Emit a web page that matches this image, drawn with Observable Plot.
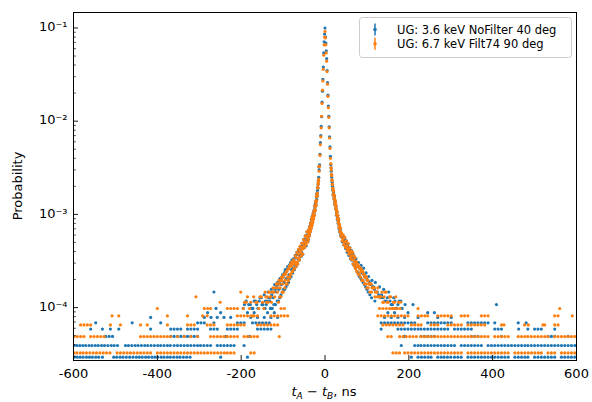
<!DOCTYPE html>
<html><head><meta charset="utf-8">
<script src="https://cdn.jsdelivr.net/npm/d3@7"></script>
<script src="https://cdn.jsdelivr.net/npm/@observablehq/plot@0.6"></script>
<style>
html,body{margin:0;padding:0;background:#fff;}
#chart{position:relative;width:592px;height:402px;}
svg{font-family:"DejaVu Sans",sans-serif;}
</style></head>
<body><div id="chart"></div>
<script>
// ---- series metadata ----
const seriesNames = ["UG: 3.6 keV NoFilter 40 deg", "UG: 6.7 keV Filt74 90 deg"];
const seriesColors = ["#1f77b4", "#ff7f0e"];
const blueTotal = 102000;   // events (probability = count / total)
const orangeTotal = 61350;

// ---- axis ticks ----
const xTicks = [-600, -400, -200, 0, 200, 400, 600];
const xTickLabels = ["-600", "-400", "-200", "0", "200", "400", "600"];
const yMajor = [1e-4, 1e-3, 1e-2, 1e-1];
const yTickLabels = ["10\u207B\u2074", "10\u207B\u00B3", "10\u207B\u00B2", "10\u207B\u00B9"];
const yMinor = [3e-5,4e-5,5e-5,6e-5,7e-5,8e-5,9e-5,2e-4,3e-4,4e-4,5e-4,6e-4,7e-4,8e-4,9e-4,2e-3,3e-3,4e-3,5e-3,6e-3,7e-3,8e-3,9e-3,2e-2,3e-2,4e-2,5e-2,6e-2,7e-2,8e-2,9e-2];

// ---- blue series: central region (bin centre ns, counts) ----
const blueCoreX = [0,-1,-2,-3,-4,-5,-6,-7,-8,-9,-10,-11,-12,-13,-14,-15,-16,-17,-18,-19,-20,-21,-22,-23,-24,-25,-26,-27,-28,-29,-30,-31,-32,-33,-34,-35,-36,-37,-38,-39,-40,-42,-44,-46,-48,-50,-52,-54,-56,-58,-60,-62,-64,-66,-68,-70,-72,-74,-76,-78,-80,-83,-86,-89,-92,-95,-98,-101,-104,-107,-110,-113,-116,-120,-124,-128,-132,-136,-140,-145,-150,-155,-160,-166,-172,-178,-185,-192,
 1,2,3,4,5,6,7,8,9,10,11,12,13,14,15,16,17,18,19,20,21,22,23,24,25,26,27,28,29,30,31,32,33,34,35,36,37,38,40,42,44,46,48,50,52,54,56,58,60,62,65,68,71,74,77,80,83,86,89,92,95,98,101,104,108,112,116,120,125,130,135,140,146,152,158,164,170,177,184,191];
const blueCoreN = [10200,8770,7240,5510,3880,2860,2140,1630,1140,900,714,600,450,347,306,255,235,194,184,173,148,143,133,131,120,114,107,102,99,92,94,84,87,78,80,71,73,67,62,65,59,61,53,56,49,51,44,47,40,43,37,41,34,38,31,35,29,33,27,32,26,30,23,28,21,26,19,23,18,21,16,19,15,18,13,16,12,15,11,14,11,13,10,12,10,11,9,11,
 8160,7040,5810,4790,3570,2650,1940,1480,1150,887,694,541,428,347,296,255,224,204,184,173,163,155,143,135,128,117,112,106,99,95,88,85,79,75,71,69,65,63,58,59,53,54,48,50,44,46,41,43,38,40,35,37,32,34,29,31,27,29,24,27,22,24,20,22,18,20,17,19,15,17,14,16,12,15,11,13,10,12,10,11];
// blue: further wing bins (scatter about the central trend)
const blueWingX = [-14.5,-15.5,-16.5,-17.5,-18.5,-19.5,-20.5,-21.5,-22.5,-23.5,-24.5,-25.5,-26.5,-27.5,-28.5,-29.5,-30.5,-31.5,-32.5,-33.5,-34.5,-35.5,-36.5,-37.5,-38.5,-39.5,
 -41,-43,-45,-47,-49,-51,-53,-55,-57,-59,-61,-63,-65,-67,-69,-71,-73,-75,-77,-79,-81,-82,-84,-85,-87,-88,-90,-91,-93,-94,-96,-97,-99,-100,-102,-103,-105,-106,-108,-109,-111,-112,-114,-115,-118,-119,-122,-123,-126,-127,-130,-131,-134,-138,-142,-143,-148,-152,-157,-163,-169,-175,-182,-188,-195,
 14.5,15.5,16.5,17.5,18.5,19.5,20.5,21.5,22.5,23.5,24.5,25.5,26.5,27.5,28.5,29.5,30.5,31.5,32.5,33.5,34.5,35.5,36.5,37.5,39,41,43,45,47,49,51,53,55,57,59,61,63,64,66,67,69,70,72,73,75,76,78,79,81,82,84,85,87,88,90,91,93,94,96,97,99,100,102,103,106,107,110,111,114,118,119,123,128,133,138,143,149,155,161,167,174,181];
const blueWingN = [330,230,215,200,160,168,158,128,140,112,126,100,112,92,104,84,97,77,90,72,82,66,76,60,70,55,
 52,66,47,60,45,55,38,50,36,46,33,42,30,40,28,37,26,34,24,33,22,31,21,29,19,27,18,26,17,25,16,24,16,22,15,21,14,20,13,19,12,18,12,17,11,16,11,15,10,14,10,13,13,12,12,10,11,13,12,11,12,10,11,12,10,
 320,270,235,212,190,165,180,150,162,130,141,118,124,100,108,90,99,82,90,72,79,66,72,60,64,52,60,48,57,44,53,40,49,37,45,34,42,33,39,30,36,29,34,27,31,25,30,24,28,22,27,21,26,20,24,19,23,18,22,17,21,16,20,15,19,14,18,13,17,16,12,15,14,13,13,12,13,12,11,12,11,12];

// ---- blue series: tail bins (ns) at each count level ----
const blueK3 = [-598,-591,-584,-577,-569,-562,-555,-547,-540,-531,-504,-497,-489,-482,-474,-466,-458,-450,-443,-436,-428,-421,-413,-406,-399,-391,-384,-376,-369,-361,-353,-346,-338,-330,-322,-249,-185,
 206,222,230,238,246,253,269,277,284,292,300,309,317,325,341,349,357,365,373,381,389,397,405,413,421,429,437,453,461,469,477,484,500,508,516,524,532,540,548,564,572,580,588,596];
const blueK4 = [-599,-592,-585,-578,-571,-563,-556,-548,-541,-533,-526,-518,-510,-503,-495,-476,-469,-461,-453,-446,-438,-430,-423,-415,-407,-399,-392,-384,-376,-369,-360,-352,-344,-336,-328,-320,-312,-304,-297,-289,-281,-273,-257,-249,-241,-233,-225,-217,-193,
 182,214,222,229,237,245,253,261,269,277,285,293,301,309,325,333,341,349,357,365,373,389,397,405,413,421,429,437,445,453,461,469,477,484,492,500,508,516,524,532,540,548,556,564,572,580,588,596];
const blueK5 = [-523,-515,-507,-368,-360,-352,-344,-336,-328,-320,-312,-304,-236,-180,
 190,229,237,245,253,261,349,357,365,421,532,540,548,580];
const blueK6 = [-559,-531,-512,-492,-416,-368,-360,-352,-344,-328,-320,-312,-304,-273,-265,-257,-233,-225,-217,-209,-161,-153,-145,-137,-129,
 134,174,182,190,198,206,214,222,229,237,245,253,261,269,277,285,293,309,317,325,333,341,349,405,413,421,462,484,500,508,516,548];
const blueK7 = [-547,-460,-392,-304,-296,-288,-265,-209,-201,-193,-173,-165,-157,-149,-141,-133,
 134,142,150,158,166,174,182,190,198,206,214,245,253,261,269,277,285,293,301,341,349,357,365,373,381,389,405,461,480];
const blueK8 = [-416,-288,-272,-257,-241,-225,-177,-161,-145,-129,-113, 142,158,174,190,222,269,301];
const blueK9 = [-280,-249,-169,-137,-121, 150,166,198,245,261];
const blueK10 = [-260,-130, 170];
const blueK11 = [-150, 210,409];
const blueK15 = [-265];

// ---- orange series: central region ----
const orangeCoreX = [0,-1,-2,-3,-4,-5,-6,-7,-8,-9,-10,-11,-12,-13,-14,-15,-16,-17,-18,-19,-20,-21,-22,-23,-24,-25,-26,-27,-28,-29,-30,-31,-32,-33,-34,-35,-36,-37,-38,-39,-40,-42,-44,-46,-48,-50,-52,-54,-56,-58,-60,-62,-64,-66,-68,-70,-72,-74,-76,-78,-80,-83,-86,-89,-92,-95,-98,-101,-104,-107,-110,-113,-116,-120,-124,-128,-132,-136,-141,-146,-152,-158,-165,-172,-180,-188,-195,
 1,2,3,4,5,6,7,8,9,10,11,12,13,14,15,16,17,18,19,20,21,22,23,24,25,26,27,28,29,30,31,32,33,34,35,36,37,38,40,42,44,46,48,50,52,54,56,58,60,62,65,68,71,74,77,80,83,86,89,92,95,98,101,104,108,112,116,120,124,128,133,138,143,148,154,160,166,172,179];
const orangeCoreN = [5640,4910,4050,3130,2210,1660,1320,951,693,521,417,344,264,202,178,147,129,117,104,98,86,83,77,74,69,66,61,59,56,53,54,48,50,44,46,41,43,38,39,36,37,34,35,31,32,28,30,26,27,24,25,21,23,19,21,18,19,16,18,15,17,14,16,13,15,12,14,11,13,10,12,9,11,8,10,7,9,7,8,6,8,6,7,5,6,7,6,
 4790,4050,3310,2700,2090,1530,1135,859,675,521,405,313,245,215,184,160,141,129,117,110,98,92,89,83,79,74,69,66,61,59,55,53,49,47,45,43,40,39,37,34,34,31,31,28,28,26,26,24,24,22,22,20,19,18,17,17,16,15,15,14,13,13,12,11,11,10,10,9,9,8,8,7,9,7,8,6,7,6,6];
// orange: further wing bins
const orangeWingX = [-14.5,-15.5,-16.5,-17.5,-18.5,-19.5,-20.5,-21.5,-22.5,-23.5,-24.5,-25.5,-26.5,-27.5,-28.5,-29.5,-30.5,-31.5,-32.5,-33.5,-34.5,-35.5,-36.5,-37.5,-38.5,-39.5,
 -41,-43,-45,-47,-49,-51,-53,-55,-57,-59,-61,-63,-65,-67,-69,-71,-73,-75,-77,-79,-81,-82,-84,-85,-87,-88,-90,-91,-93,-94,-96,-97,-99,-100,-102,-103,-105,-106,-108,-109,-111,-112,-114,-118,-122,-126,-130,-134,-138,-143,-149,-155,-162,-170,-177,-185,-192,
 14.5,15.5,16.5,17.5,18.5,19.5,20.5,21.5,22.5,23.5,24.5,25.5,26.5,27.5,28.5,29.5,30.5,31.5,32.5,33.5,34.5,35.5,36.5,37.5,39,41,43,45,47,49,51,53,55,57,59,61,63,64,66,67,69,70,72,73,75,76,78,79,81,82,84,85,87,88,90,91,93,94,96,97,99,100,102,103,106,107,110,111,114,118,119,123,126,131,136,141,146,151,157,163,169,176];
const orangeWingN = [200,140,133,120,96,102,95,77,85,68,76,60,67,55,62,50,58,46,54,43,49,40,45,36,42,33,
 31,40,29,36,27,33,23,30,22,28,20,26,18,24,17,22,16,20,15,19,14,18,13,17,12,16,11,15,11,14,10,14,9,13,9,12,8,12,8,11,7,11,10,10,9,9,8,9,8,9,7,8,7,8,7,8,7,
 195,165,144,128,115,101,109,90,98,79,86,71,76,61,66,55,60,50,55,44,48,40,44,36,39,32,37,29,35,27,32,25,30,23,27,21,25,20,24,18,22,17,21,16,19,15,18,14,17,14,16,13,16,12,15,12,14,11,13,11,13,10,12,10,11,9,11,9,10,10,8,9,10,8,9,8,9,7,8,7,8,7];

// ---- orange series: tail bins (ns) at each count level ----
const orangeK2 = [-599,-592,-584,-577,-569,-561,-553,-545,-537,-529,-521,-513,-496,-488,-480,-472,-464,-456,-448,-440,-432,-424,-416,-400,-392,-384,-376,-368,-360,-352,-344,-336,-328,-320,-312,-304,-296,-288,-280,-272,-264,-256,-248,-240,-233,-225,-217,-177,-169,
 162,170,178,190,198,206,214,222,230,238,246,253,261,269,277,285,293,301,309,317,325,341,349,357,365,373,381,389,397,405,413,421,429,437,453,461,469,477,485,493,501,509,516,532,540,548,564,572,580,588,596];
const orangeK3 = [-599,-591,-583,-575,-559,-551,-543,-535,-527,-440,-432,-424,-416,-408,-400,-392,-384,-376,-368,-352,-336,-320,-304,-273,-265,-257,-249,-241,-233,-225,-217,-209,-193,-185,-177,-169,-161,-109,
 150,158,178,186,194,202,210,218,229,237,245,253,261,269,277,285,293,301,309,317,325,333,341,349,357,365,373,381,389,405,413,421,429,437,461,469,477,484,492,500,508,516,524,532,548,556,564,572,580,588,596];
const orangeK4 = [-583,-575,-567,-559,-512,-488,-440,-424,-376,-328,-320,-312,-281,-273,-265,-233,-225,-217,-209,-201,-193,-161,-153,-145,-137,-129,-121,-113,
 138,146,154,162,170,178,186,206,214,222,229,253,261,269,293,301,309,317,325,341,349,357,365,373,381,421,427,476,485,520,524,548,556];
const orangeK5 = [-508,-492,-376,-328,-292,-281,-209,-201,-193,-185,-177,-169,-161,-129,-121,-113,-105,-97,-89,
 126,134,142,150,158,166,174,182,190,198,222,230,238,245,269,277,285,293,301,325,333,341,373,381,389,548,556,590];
const orangeK6 = [-400,-288,-280,-273,-233,-225,-217,-209,-105,-97, 130,138,146,154,162,166,222,560];
const orangeK7 = [-250,-140, 140,180];
const orangeK8 = [-308,-130, 125];
const orangeK9 = [-201];

// ---- assemble point tables ----
function build(parts, rows, total) {
  const out = [];
  for (const [xs, ns] of parts) xs.forEach((x, i) => out.push({x, p: ns[i] / total}));
  for (const [k, xs] of rows) for (const x of xs) out.push({x, p: k / total});
  return out;
}
const blue = build([[blueCoreX, blueCoreN], [blueWingX, blueWingN]],
  [[3, blueK3], [4, blueK4], [5, blueK5], [6, blueK6], [7, blueK7], [8, blueK8], [9, blueK9], [10, blueK10], [11, blueK11], [15, blueK15]], blueTotal);
const orange = build([[orangeCoreX, orangeCoreN], [orangeWingX, orangeWingN]],
  [[2, orangeK2], [3, orangeK3], [4, orangeK4], [5, orangeK5], [6, orangeK6], [7, orangeK7], [8, orangeK8], [9, orangeK9]], orangeTotal);

const W = 592, H = 402, mL = 73, mR = 16, mT = 12, mB = 42;
const frameW = W - mL - mR, frameH = H - mT - mB;
const font = "DejaVu Sans, sans-serif";

const svg = Plot.plot({
  width: W, height: H,
  marginLeft: mL, marginRight: mR, marginTop: mT, marginBottom: mB,
  style: {fontFamily: font, background: "#fff"},
  x: {domain: [-600, 600], axis: null, label: null},
  y: {type: "log", domain: [2.706e-5, 0.1466], axis: null, label: null},
  marks: [
    Plot.dot(blue, {x: "x", y: "p", r: 1.6, fill: seriesColors[0], stroke: "none", clip: true}),
    Plot.dot(orange, {x: "x", y: "p", r: 1.6, fill: seriesColors[1], stroke: "none", clip: true}),
    Plot.tickX(xTicks, {x: d => d, stroke: "black", strokeWidth: 0.9, insetTop: frameH - 5}),
    Plot.tickY(yMajor, {y: d => d, stroke: "black", strokeWidth: 0.9, insetRight: frameW - 5}),
    Plot.tickY(yMinor, {y: d => d, stroke: "black", strokeWidth: 0.7, insetRight: frameW - 2.8}),
    Plot.frame({stroke: "black", strokeWidth: 1}),
    Plot.text(xTicks, {x: d => d, text: (d, i) => xTickLabels[i], frameAnchor: "bottom", lineAnchor: "top", dy: 8, fontSize: 13, fill: "black"}),
    Plot.text(yMajor, {y: d => d, text: (d, i) => yTickLabels[i], frameAnchor: "left", textAnchor: "end", dx: -6, dy: -1, fontSize: 13, fill: "black"})
  ]
});

const s = d3.select(svg);
// axis titles
s.append("text").attr("transform", "translate(22,186) rotate(-90)")
  .attr("text-anchor", "middle").attr("font-size", 13).attr("fill", "black").text("Probability");
const xl = s.append("text").attr("x", 324).attr("y", 396).attr("text-anchor", "middle")
  .attr("font-size", 13).attr("fill", "black");
xl.append("tspan").attr("font-style", "italic").text("t");
xl.append("tspan").attr("font-style", "italic").attr("font-size", "9px").attr("dy", 3).text("A");
xl.append("tspan").attr("dy", -3).text(" \u2212 ");
xl.append("tspan").attr("font-style", "italic").text("t");
xl.append("tspan").attr("font-style", "italic").attr("font-size", "9px").attr("dy", 3).text("B");
xl.append("tspan").attr("dy", -3).text(", ns");

// legend
const lg = s.append("g").attr("text-anchor", "start");
lg.append("rect").attr("x", 359.5).attr("y", 17.5).attr("width", 212).attr("height", 40).attr("rx", 3)
  .attr("fill", "white").attr("fill-opacity", 0.8).attr("stroke", "#cccccc").attr("stroke-width", 1);
seriesNames.forEach((name, i) => {
  const cy = 29.5 + i * 14.3;
  lg.append("line").attr("x1", 375).attr("x2", 375).attr("y1", cy - 6).attr("y2", cy + 6)
    .attr("stroke", seriesColors[i]).attr("stroke-width", 1.5);
  lg.append("circle").attr("cx", 375).attr("cy", cy).attr("r", 1.8).attr("fill", seriesColors[i]);
  lg.append("text").attr("x", 397).attr("y", cy + 4).attr("text-anchor", "start")
    .attr("font-size", 11.5).attr("fill", "black").text(name);
});

document.getElementById("chart").appendChild(svg);
</script></body></html>
